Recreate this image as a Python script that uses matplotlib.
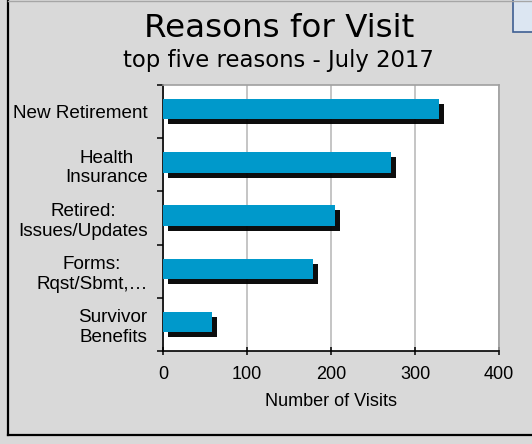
import numpy as np
import matplotlib.pyplot as plt
import matplotlib.patheffects as pe
from matplotlib.patches import Rectangle
from matplotlib.lines import Line2D

reasons = ["New Retirement", "Health\nInsurance", "Retired:\nIssues/Updates",
           "Forms:\nRqst/Sbmt,…", "Survivor\nBenefits"]
visits = [328, 272, 205, 178, 58]
x_ticks = [0, 100, 200, 300, 400]

BG = "#d9d9d9"
BLUE = "#0099cb"

fig = plt.figure(figsize=(5.32, 4.44), dpi=100, facecolor=BG)

# outer frame of the chart object
fig.add_artist(Line2D([8 / 532, 8 / 532], [1 - 435 / 444, 1.0], color="black", lw=1.6))
fig.add_artist(Line2D([8 / 532, 1.0], [1 - 435 / 444, 1 - 435 / 444], color="black", lw=1.6))
fig.add_artist(Line2D([8 / 532, 1.0], [0.998, 0.998], color="#a6a6a6", lw=1.0))
fig.add_artist(Rectangle((513 / 532, 1 - 32 / 444), 0.05, 0.08, transform=fig.transFigure,
                         facecolor="#dce6f2", edgecolor="#3f5f93", lw=1.2))

fig.text(0.524, 1 - 37 / 444, "Reasons for Visit", ha="center", va="baseline",
         fontsize=23.4, family="DejaVu Sans")
fig.text(0.524, 1 - 66.5 / 444, "top five reasons - July 2017", ha="center", va="baseline",
         fontsize=16.4, family="DejaVu Sans")

ax = fig.add_axes([163 / 532, 1 - 351 / 444, (499 - 163) / 532, (351 - 85) / 444])
ax.set_facecolor("white")

pos = np.arange(len(reasons))
ax.barh(pos - 0.045, visits, height=0.38, color=BLUE, zorder=3,
        path_effects=[pe.SimplePatchShadow(offset=(3.6, -3.6), shadow_rgbFace="black", alpha=0.95),
                      pe.Normal()])

ax.set_xlim(0, 400)
ax.set_ylim(len(reasons) - 0.5, -0.5)
ax.set_xticks(x_ticks)
ax.set_yticks(pos)
ax.set_yticklabels(reasons)
ax.set_yticks(np.arange(len(reasons) + 1) - 0.5, minor=True)

ax.xaxis.grid(True, color="#c0c0c0", lw=1.3, zorder=0)
ax.set_axisbelow(True)

for side in ["top", "right"]:
    ax.spines[side].set_color("#a0a0a0")
    ax.spines[side].set_linewidth(1.2)
for side in ["left", "bottom"]:
    ax.spines[side].set_color("black")
    ax.spines[side].set_linewidth(1.2)

ax.tick_params(axis="y", which="major", length=0, pad=11)
ax.tick_params(axis="y", which="minor", length=4, width=1.1, direction="out")
ax.tick_params(axis="x", length=6, width=1.1, direction="inout", pad=8)

for lbl in ax.get_xticklabels():
    lbl.set_family("Liberation Sans")
    lbl.set_fontsize(13)
for lbl in ax.get_yticklabels():
    lbl.set_family("Liberation Sans")
    lbl.set_fontsize(13.6)
    lbl.set_multialignment("center")
    lbl.set_linespacing(1.2)

ax.set_xlabel("Number of Visits", family="Liberation Sans", fontsize=13, labelpad=7)

plt.savefig("out.png", dpi=100, facecolor=BG)
